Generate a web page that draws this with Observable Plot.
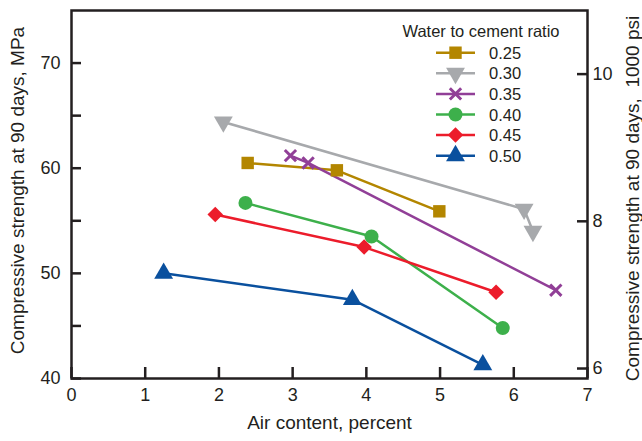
<!DOCTYPE html>
<html>
<head>
<meta charset="utf-8">
<script src="https://cdn.jsdelivr.net/npm/d3@7"></script>
<script src="https://cdn.jsdelivr.net/npm/@observablehq/plot@0.6"></script>
<style>
  html, body { margin: 0; padding: 0; background: #fff; }
  #chart { position: relative; width: 642px; height: 441px; font-family: "Liberation Sans", Arial, Helvetica, sans-serif; color: #231f20; }
  #chart svg { display: block; }
  #legend { position: absolute; left: 0; top: 0; pointer-events: none; }
</style>
</head>
<body>
<div id="chart"></div>
<script>
// Water-to-cement ratio series
const ratios = ["0.25", "0.30", "0.35", "0.40", "0.45", "0.50"];
const seriesColors = ["#b38600", "#a7a9ac", "#913f97", "#3db04b", "#ec1c2b", "#0a509e"];
const seriesSymbols = ["square", "triangle", "times", "circle", "diamond2", "triangle"];
const seriesRotate = [0, 180, 0, 0, 0, 0];

// Air content (percent) and 90-day compressive strength (MPa) per series
const air025 = [2.39, 3.60, 4.99];
const mpa025 = [60.5, 59.8, 55.9];
const air030 = [2.06, 6.14, 6.26];
const mpa030 = [64.4, 56.1, 54.0];
const air035 = [2.97, 3.21, 6.57];
const mpa035 = [61.2, 60.5, 48.4];
const air040 = [2.36, 4.07, 5.85];
const mpa040 = [56.7, 53.5, 44.8];
const air045 = [1.95, 3.97, 5.76];
const mpa045 = [55.6, 52.5, 48.2];
const air050 = [1.25, 3.81, 5.58];
const mpa050 = [50.0, 47.5, 41.3];

// Axis ticks
const xTicks = [0, 1, 2, 3, 4, 5, 6, 7];
const yTicks = [40, 45, 50, 55, 60, 65, 70];
const yLabels = [40, 50, 60, 70];
const ksiTicks = [6, 8, 10];

// Secondary axis: thousands of psi placed on the MPa scale
const ksiToMPa = k => 68.95 + (k - 10) * 7.0;
const mpaToKsi = m => (m - 68.95) / 7.0 + 10;

const airSets = [air025, air030, air035, air040, air045, air050];
const mpaSets = [mpa025, mpa030, mpa035, mpa040, mpa045, mpa050];
const rows = ratios.flatMap((r, i) =>
  airSets[i].map((a, j) => ({ratio: r, air: a, mpa: mpaSets[i][j], rot: seriesRotate[i]}))
);

const ink = "#231f20";
const font = "\"Liberation Sans\", Arial, Helvetica, sans-serif";

const plot = Plot.plot({
  width: 642,
  height: 441,
  marginLeft: 71,
  marginRight: 55,
  marginTop: 10,
  marginBottom: 63,
  style: {fontFamily: font, color: ink, background: "#fff", overflow: "visible"},
  x: {domain: [0, 7]},
  y: {domain: [40, 75]},
  color: {domain: ratios, range: seriesColors},
  symbol: {domain: ratios, range: seriesSymbols},
  marks: [
    Plot.line(rows, {x: "air", y: "mpa", z: "ratio", stroke: "ratio", strokeWidth: 2.5}),
    Plot.dot(rows.filter(d => d.ratio !== "0.35"), {
      x: "air", y: "mpa", symbol: "ratio", fill: "ratio", stroke: null, r: 7, rotate: "rot"
    }),
    Plot.dot(rows.filter(d => d.ratio === "0.35"), {
      x: "air", y: "mpa", symbol: "ratio", stroke: "ratio", fill: "none", r: 5.2, strokeWidth: 3
    }),
    Plot.frame({stroke: ink, strokeWidth: 2.5}),
    // bottom axis
    Plot.axisX(xTicks, {tickSize: 0, tickPadding: 10, fontSize: 18, label: null, fill: ink}),
    Plot.axisX(xTicks, {tickSize: 11, dy: -11, text: null, stroke: ink, strokeWidth: 2.5, label: null}),
    // left axis (MPa)
    Plot.axisY(yLabels, {anchor: "left", tickSize: 0, tickPadding: 11, fontSize: 18, label: null, fill: ink}),
    Plot.axisY(yTicks, {anchor: "left", tickSize: 10, dx: 10, text: null, stroke: ink, strokeWidth: 2.5, label: null}),
    // right axis (1000 psi)
    Plot.axisY(ksiTicks.map(ksiToMPa), {
      anchor: "right", tickSize: 0, tickPadding: 5, fontSize: 18, label: null, fill: ink,
      tickFormat: d => String(Math.round(mpaToKsi(d)))
    }),
    Plot.axisY(ksiTicks.map(ksiToMPa), {anchor: "right", tickSize: 11, dx: -11, text: null, stroke: ink, strokeWidth: 2.5, label: null}),
    // axis titles
    Plot.text(["Air content, percent"], {frameAnchor: "bottom", dy: 50, fontSize: 19, fill: ink}),
    Plot.text(["Compressive strength at 90 days, MPa"], {
      frameAnchor: "left", textAnchor: "middle", lineAnchor: "middle", dx: -54, dy: -4, rotate: -90, fontSize: 19, fill: ink
    }),
    Plot.text(["Compressive strength at 90 days,  1000 psi"], {
      frameAnchor: "right", textAnchor: "middle", lineAnchor: "middle", dx: 45, dy: 4, rotate: -90, fontSize: 19, fill: ink
    })
  ]
});

const chart = document.getElementById("chart");
chart.appendChild(plot);

// Legend: title and one line+marker row per ratio
const legend = d3.select(chart).append("svg")
  .attr("id", "legend")
  .attr("width", 642)
  .attr("height", 441)
  .style("font-family", font);

legend.append("text")
  .attr("x", 481).attr("y", 31)
  .attr("text-anchor", "middle").attr("dominant-baseline", "central")
  .attr("font-size", 16.5).attr("fill", ink)
  .text("Water to cement ratio");

const d3Symbols = {square: d3.symbolSquare, triangle: d3.symbolTriangle, times: d3.symbolTimes, circle: d3.symbolCircle, diamond2: d3.symbolDiamond2};
const rowY = i => 52.7 + i * 20.6;

ratios.forEach((r, i) => {
  const g = legend.append("g").attr("transform", `translate(0,${rowY(i)})`);
  g.append("line").attr("x1", 436).attr("x2", 475).attr("y1", 0).attr("y2", 0)
    .attr("stroke", seriesColors[i]).attr("stroke-width", 2.5);
  const isCross = seriesSymbols[i] === "times";
  const rr = isCross ? 5.2 : 7;
  g.append("path")
    .attr("d", d3.symbol(d3Symbols[seriesSymbols[i]], Math.PI * rr * rr)())
    .attr("transform", `translate(455.5,0) rotate(${seriesRotate[i]})`)
    .attr("fill", isCross ? "none" : seriesColors[i])
    .attr("stroke", isCross ? seriesColors[i] : "none")
    .attr("stroke-width", 3);
  g.append("text")
    .attr("x", 489).attr("y", 0)
    .attr("dominant-baseline", "central")
    .attr("font-size", 16.5).attr("fill", ink)
    .text(r);
});
</script>
</body>
</html>
